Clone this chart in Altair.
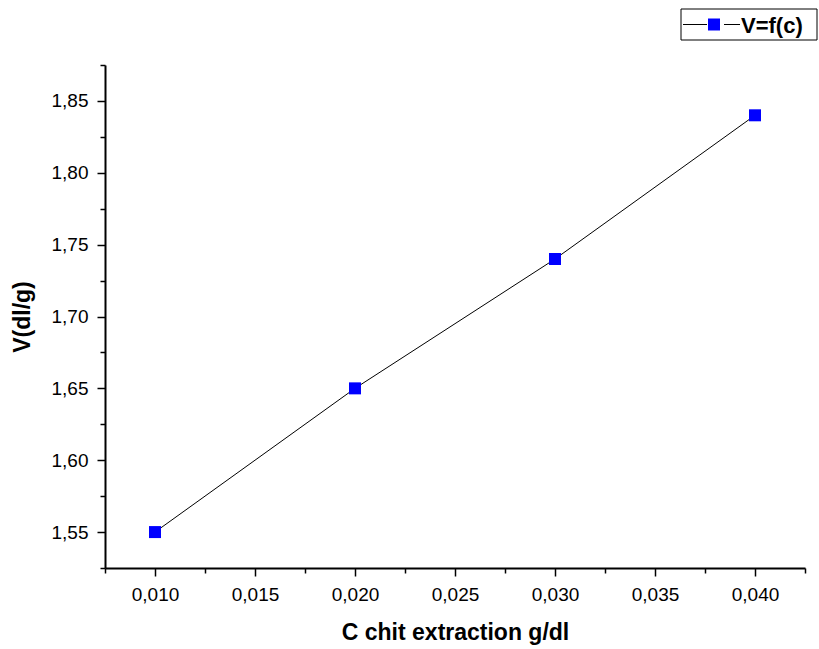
import altair as alt
import pandas as pd

# ---- data ----
c_values = [0.010, 0.020, 0.030, 0.040]
v_values = [1.55, 1.65, 1.74, 1.84]
series_name = ["V=f(c)"]

x_major = [0.010, 0.015, 0.020, 0.025, 0.030, 0.035, 0.040]
x_minor = [0.0075, 0.0125, 0.0175, 0.0225, 0.0275, 0.0325, 0.0375, 0.0425]
y_major = [1.55, 1.60, 1.65, 1.70, 1.75, 1.80, 1.85]
y_minor = [1.525, 1.575, 1.625, 1.675, 1.725, 1.775, 1.825, 1.875]
x_domain = [0.0075, 0.0425]
y_domain = [1.525, 1.875]

df = pd.DataFrame({"c": c_values, "v": v_values})
leg = pd.DataFrame({"series": series_name})

FONT = "Liberation Sans"
W, H = 700, 503

xs = alt.Scale(domain=x_domain, nice=False, zero=False)
ys = alt.Scale(domain=y_domain, nice=False, zero=False)

common = dict(grid=False, tickColor="black", domainColor="black",
              labelFont=FONT, labelColor="black", titleFont=FONT, titleColor="black")

x_axis_major = alt.Axis(
    values=x_major, orient="bottom", tickSize=8, tickWidth=1.5, domainWidth=2,
    labelExpr="replace(format(datum.value, '.3f'), '.', ',')",
    labelFontSize=19, labelPadding=9, labelFlush=False, labelOverlap=False,
    title="C chit extraction g/dl", titleFontSize=23, titleFontWeight="bold",
    titlePadding=17, **common)
x_axis_minor = alt.Axis(
    values=x_minor, orient="bottom", tickSize=5, tickWidth=1.5, domain=False,
    labels=False, title="", **common)
y_axis_major = alt.Axis(
    values=y_major, orient="left", tickSize=8, tickWidth=1.5, domainWidth=2,
    labelExpr="replace(format(datum.value, '.2f'), '.', ',')",
    labelFontSize=19, labelPadding=9, labelFlush=False, labelOverlap=False,
    title="V(dl/g)", titleFontSize=23, titleFontWeight="bold",
    titlePadding=17, **common)
y_axis_minor = alt.Axis(
    values=y_minor, orient="left", tickSize=5, tickWidth=1.5, domain=False,
    labels=False, title="", **common)

line = alt.Chart(df).mark_line(color="black", strokeWidth=1).encode(
    x=alt.X("c:Q", scale=xs, axis=x_axis_major),
    y=alt.Y("v:Q", scale=ys, axis=y_axis_major),
)
minor = alt.Chart(df).mark_point(opacity=0).encode(
    x=alt.X("c:Q", scale=xs, axis=x_axis_minor),
    y=alt.Y("v:Q", scale=ys, axis=y_axis_minor),
)
points = alt.Chart(df).mark_square(color="#0000FF", size=144, opacity=1).encode(
    x=alt.X("c:Q", scale=xs, axis=None),
    y=alt.Y("v:Q", scale=ys, axis=None),
)

# ---- legend (top-right box) ----
leg_box = alt.Chart(leg).mark_rect(fillOpacity=0, stroke="black", strokeWidth=1).encode(
    x=alt.value(576), x2=alt.value(712), y=alt.value(-56), y2=alt.value(-25))
leg_line_a = alt.Chart(leg).mark_rule(color="black", strokeWidth=1).encode(
    x=alt.value(578), x2=alt.value(602), y=alt.value(-40.5))
leg_line_b = alt.Chart(leg).mark_rule(color="black", strokeWidth=1).encode(
    x=alt.value(619), x2=alt.value(635), y=alt.value(-40.5))
leg_sq = alt.Chart(leg).mark_square(color="#0000FF", size=144, opacity=1).encode(
    x=alt.value(609), y=alt.value(-40.5))
leg_text = alt.Chart(leg).mark_text(
    align="left", baseline="middle", font=FONT, fontSize=22, fontWeight="bold",
    color="black").encode(x=alt.value(636), y=alt.value(-39.5), text="series:N")

chart = alt.layer(line, minor, points, leg_box, leg_line_a, leg_line_b, leg_sq, leg_text).resolve_axis(
    x="independent", y="independent"
).properties(
    width=W, height=H,
    padding={"left": 105, "top": 65, "right": 14, "bottom": 81},
    autosize=alt.AutoSizeParams(type="none"),
    background="white",
).configure_view(stroke="transparent")

chart.save("out.html", embed_options={"renderer": "svg", "actions": False})
